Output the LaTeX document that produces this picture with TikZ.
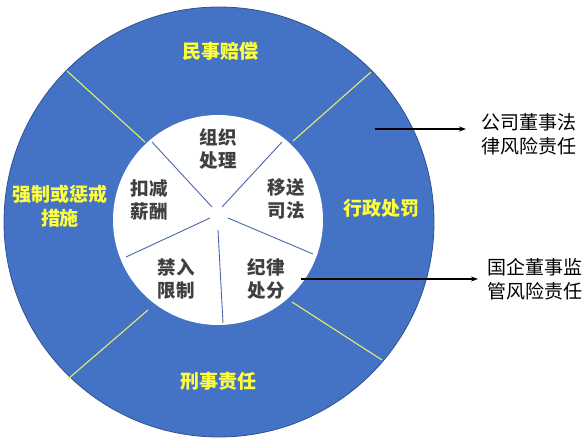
\documentclass[tikz,border=0pt]{standalone}
\usepackage{fontspec}
\newfontfamily\cjk{Noto Sans CJK SC}
\usetikzlibrary{arrows.meta}
\definecolor{ringblue}{RGB}{68,114,196}
\definecolor{ringedge}{RGB}{47,82,143}
\definecolor{divline}{RGB}{225,238,110}
\definecolor{ytext}{RGB}{255,255,60}
\definecolor{gtext}{RGB}{64,64,64}
\definecolor{spoke}{RGB}{72,104,170}
\begin{document}
\begin{tikzpicture}[x=1pt,y=-1pt,
 ringlabel/.style={font=\cjk\bfseries\fontsize{19}{24}\selectfont, text=ytext, align=center, inner sep=0pt},
 corelabel/.style={font=\cjk\bfseries\fontsize{18.5}{23}\selectfont, text=gtext, align=center, inner sep=0pt},
 sidelabel/.style={font=\cjk\fontsize{19}{24}\selectfont, text=black, align=left, anchor=west, inner sep=0pt},
 divider/.style={draw=divline, line width=1.1pt},
 spokeline/.style={draw=spoke, line width=0.9pt},
 pointer/.style={draw=black, line width=1.1pt, -{Stealth[length=7pt,width=5pt]}}]
\useasboundingbox (0,0) rectangle (584,444);
% ring
\fill[ringblue, draw=ringedge, line width=0.8pt] (219,222) circle[radius=215pt];
\fill[white] (218,220) circle[radius=105pt];
% ring dividers
\draw[divider] (145,142) -- (67,71);
\draw[divider] (293,141) -- (371,72);
\draw[divider] (148,310) -- (68,379);
\draw[divider] (292,302) -- (382,360);
% core spokes
\draw[spokeline] (212,207) -- (152,142);
\draw[spokeline] (222,207) -- (282,142);
\draw[spokeline] (210,218) -- (126,257);
\draw[spokeline] (228,218) -- (313,254);
\draw[spokeline] (218,230) -- (223,323);
% ring labels
\node[ringlabel] (civil) at (220,51) {民事赔偿};
\node[ringlabel] (crim) at (218,381) {刑事责任};
\node[ringlabel] (coerce) at (60,206.5) {强制或惩戒\\措施};
\node[ringlabel] (admin) at (381,208) {行政处罚};
% core labels
\node[corelabel] (org) at (218,148.5) {组织\\处理};
\node[corelabel] (pay) at (149,200) {扣减\\薪酬};
\node[corelabel] (jud) at (286,198.5) {移送\\司法};
\node[corelabel] (ban) at (176,278.5) {禁入\\限制};
\node[corelabel] (disc) at (266,278.5) {纪律\\处分};
% side labels and pointers
\node[sidelabel] (law) at (481,134.5) {公司董事法\\律风险责任};
\node[sidelabel] (soe) at (487,279.5) {国企董事监\\管风险责任};
\coordinate (p1) at (375,129);
\coordinate (p2) at (301,279);
\draw[pointer] (p1) -- ([xshift=-15pt]law.west |- p1);
\draw[pointer] (p2) -- ([xshift=-9pt]soe.west |- p2);
\end{tikzpicture}
\end{document}
